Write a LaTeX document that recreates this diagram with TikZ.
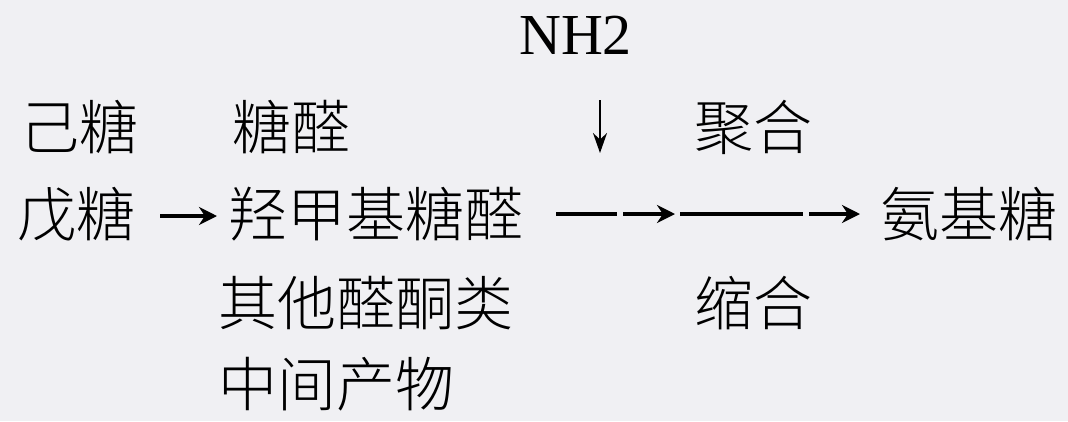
\documentclass[tikz,border=0pt]{standalone}
\usepackage{fontspec}
\setmainfont{Liberation Serif}
\newfontfamily\cjk{Noto Sans CJK SC}[UprightFont={* Light}]
\usetikzlibrary{arrows.meta}
\begin{document}
\begin{tikzpicture}[x=1pt,y=-1pt,
  txt/.style={anchor=base west,inner sep=0pt,font=\cjk\fontsize{59}{62}\selectfont},
  lat/.style={anchor=base west,inner sep=0pt,font=\fontsize{58}{62}\selectfont},
  arr/.style={line width=3.5pt,-{Stealth[length=18pt,width=18pt]}},
  bar/.style={line width=4.5pt}]
\fill[fill={rgb,255:red,240;green,240;blue,243}] (0,0) rectangle (1068,421);
\useasboundingbox (0,0) rectangle (1068,421);
\node[lat] (nh) at (519,54) {NH2};
\node[txt] (ji) at (20,149) {己糖};
\node[txt] (tq) at (232,149) {糖醛};
\node[txt] (jh) at (694,149) {聚合};
\node[txt] (wu) at (17,236) {戊糖};
\node[txt] (qj) at (228,236) {羟甲基糖醛};
\node[txt] (aj) at (880,236) {氨基糖};
\node[txt] (qt) at (218,325) {其他醛酮类};
\node[txt] (sh) at (694,325) {缩合};
\node[txt] (zj) at (218,406) {中间产物};
\coordinate (d1) at (600,100);
\coordinate (d2) at (600,153);
\coordinate (a1) at (160,216);
\coordinate (a2) at (217,216);
\coordinate (b1) at (556,214);
\coordinate (b2) at (617,214);
\coordinate (b3) at (623,214);
\coordinate (b4) at (675,214);
\coordinate (b5) at (680,214);
\coordinate (b6) at (803,214);
\coordinate (b7) at (809,214);
\coordinate (b8) at (860,214);
\draw[line width=2pt,-{Stealth[length=20pt,width=14pt]}] (d1) -- (d2);
\draw[arr] (a1) -- (a2);
\draw[bar] (b1) -- (b2);
\draw[arr] (b3) -- (b4);
\draw[bar] (b5) -- (b6);
\draw[arr] (b7) -- (b8);
\end{tikzpicture}
\end{document}
